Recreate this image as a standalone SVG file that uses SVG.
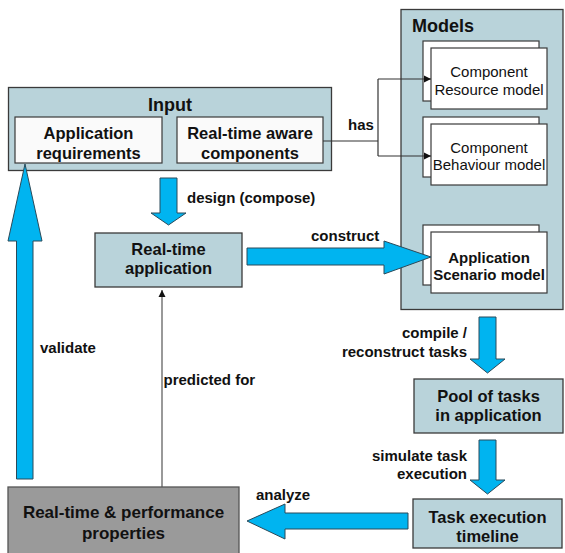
<svg xmlns="http://www.w3.org/2000/svg" width="565" height="553" viewBox="0 0 565 553">
<style>
.box{fill:#b9d3da;stroke:#3a3a3a;stroke-width:1.3}
.inner{fill:#fafafa;stroke:#3a3a3a;stroke-width:1.2}
.mdl{fill:#ffffff;stroke:#3a3a3a;stroke-width:1.2}
.gray{fill:#9a9a9a;stroke:#555;stroke-width:1.3}
.blk{fill:#00b4f0;stroke:#2a4a5a;stroke-width:1}
.t{font-family:"Liberation Sans",Arial,sans-serif;font-weight:bold;font-size:16.5px;fill:#111;text-anchor:middle}
.title{font-family:"Liberation Sans",Arial,sans-serif;font-weight:bold;font-size:18px;fill:#111}
.lbl{font-family:"Liberation Sans",Arial,sans-serif;font-weight:bold;font-size:15px;fill:#111}
.m{font-family:"Liberation Sans",Arial,sans-serif;font-size:15px;fill:#111;text-anchor:middle}
.line{fill:none;stroke:#333;stroke-width:1.2}
</style>
<defs>
<marker id="ah" markerWidth="8" markerHeight="8" refX="7" refY="4" orient="auto" markerUnits="userSpaceOnUse">
<path d="M0,0.5 L7,4 L0,7.5 Z" fill="#111"/>
</marker>
</defs>

<g id="models">
<rect class="box" x="401" y="9.5" width="162" height="300"/>
<text class="title" x="412" y="32">Models</text>
</g>
<g id="resource-model">
<rect class="mdl" x="423" y="41" width="116" height="60"/>
<rect class="mdl" x="431" y="48" width="116" height="61"/>
<text class="m" x="489" y="77">Component</text>
<text class="m" x="489" y="94.5">Resource model</text>
</g>
<g id="behaviour-model">
<rect class="mdl" x="423" y="117" width="116" height="60"/>
<rect class="mdl" x="431" y="124" width="116" height="61"/>
<text class="m" x="489" y="153">Component</text>
<text class="m" x="489" y="170">Behaviour model</text>
</g>
<g id="scenario-model">
<rect class="mdl" x="423" y="225" width="116" height="60"/>
<rect class="mdl" x="431" y="232" width="116" height="61"/>
<text class="m" x="489" y="262.5" style="font-weight:bold">Application</text>
<text class="m" x="489" y="279.5" style="font-weight:bold">Scenario model</text>
</g>

<g id="input">
<rect class="box" x="8.5" y="87.5" width="323" height="83"/>
<text class="title" x="170" y="110.5" text-anchor="middle">Input</text>
</g>
<g id="app-req">
<rect class="inner" x="15" y="117" width="147" height="46"/>
<text class="t" x="88.5" y="139">Application</text>
<text class="t" x="88.5" y="159">requirements</text>
</g>
<g id="rt-components">
<rect class="inner" x="177" y="117" width="146" height="46"/>
<text class="t" x="250" y="139">Real-time aware</text>
<text class="t" x="250" y="159">components</text>
</g>

<g id="rt-app">
<rect class="box" x="95" y="233" width="147" height="54"/>
<text class="t" x="168.5" y="255">Real-time</text>
<text class="t" x="168.5" y="274">application</text>
</g>

<g id="pool">
<rect class="box" x="414" y="379" width="149" height="54"/>
<text class="t" x="488.5" y="402">Pool of tasks</text>
<text class="t" x="488.5" y="421">in application</text>
</g>

<g id="timeline">
<rect class="box" x="413" y="499" width="149" height="49"/>
<text class="t" x="487.5" y="523">Task execution</text>
<text class="t" x="487.5" y="542">timeline</text>
</g>

<g id="rt-props">
<rect class="gray" x="8" y="487" width="231" height="70"/>
<text class="t" x="123.5" y="518" style="font-size:17px">Real-time &amp; performance</text>
<text class="t" x="123.5" y="539" style="font-size:17px">properties</text>
</g>

<g id="connectors">
<polyline class="line" points="323,141 378,141"/>
<polyline class="line" points="378,79 378,156"/>
<line class="line" x1="378" y1="79" x2="431" y2="79" marker-end="url(#ah)"/>
<line class="line" x1="378" y1="156" x2="431" y2="156" marker-end="url(#ah)"/>
<text class="lbl" x="348" y="130">has</text>

<path class="blk" d="M160,178 L177,178 L177,213 L186,213 L168.5,225 L151,213 L160,213 Z"/>
<text class="lbl" x="187" y="203">design (compose)</text>

<path class="blk" d="M247,248 L384,248 L384,241 L431,257 L384,274 L384,265 L247,265 Z"/>
<text class="lbl" x="311" y="241">construct</text>

<path class="blk" d="M16.5,479 L16.5,241 L8,241 L25,164 L42,241 L33,241 L33,479 Z"/>
<text class="lbl" x="40" y="353">validate</text>

<line x1="162" y1="487" x2="162" y2="290" stroke="#555" stroke-width="1.2" marker-end="url(#ah)"/>
<text class="lbl" x="163.5" y="385">predicted for</text>

<path class="blk" d="M479,317 L496,317 L496,359 L505,359 L487.5,373 L470,359 L479,359 Z"/>
<text class="lbl" x="467" y="338" text-anchor="end">compile /</text>
<text class="lbl" x="467" y="357" text-anchor="end">reconstruct tasks</text>

<path class="blk" d="M479,440 L496,440 L496,480 L505,480 L487.5,494 L470,480 L479,480 Z"/>
<text class="lbl" x="467" y="461" text-anchor="end">simulate task</text>
<text class="lbl" x="467" y="479" text-anchor="end">execution</text>

<path class="blk" d="M408,513 L285,513 L285,504 L247,521 L285,539 L285,529 L408,529 Z"/>
<text class="lbl" x="256" y="500">analyze</text>
</g>
</svg>
